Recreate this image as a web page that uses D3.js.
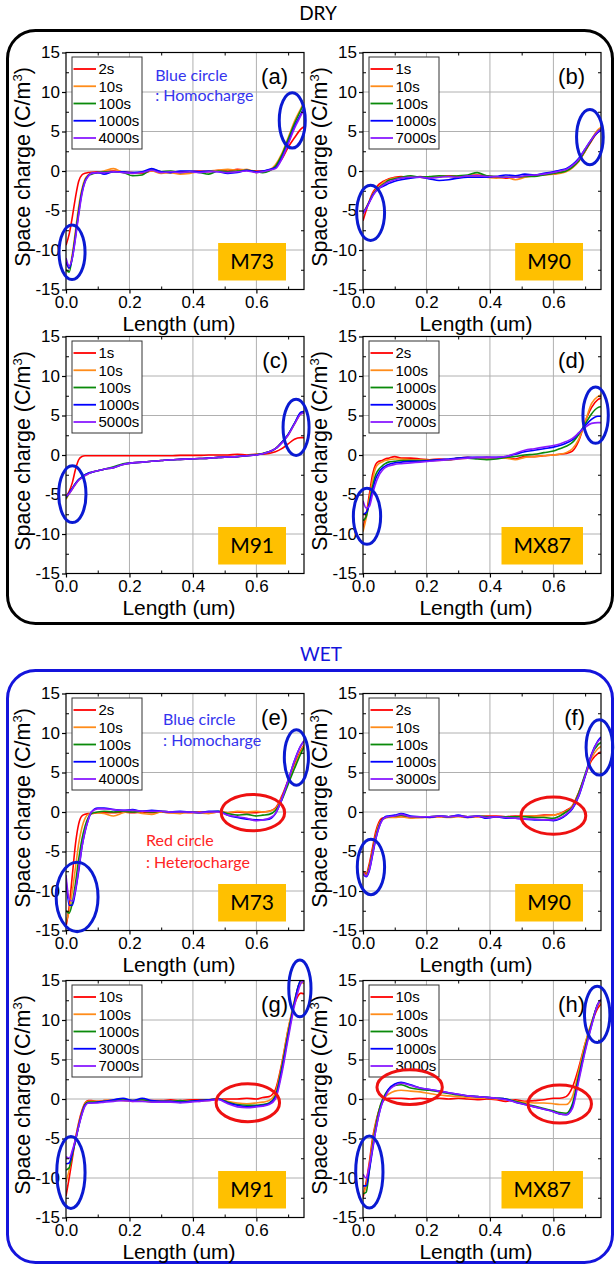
<!DOCTYPE html>
<html><head><meta charset="utf-8">
<script src="https://cdn.jsdelivr.net/npm/d3@7"></script>
<style>body{margin:0;background:#fff}svg{display:block}</style>
</head><body><svg id="c" width="616" height="1267"></svg>
<script>
// ---------- DATA ----------
const X = [0,0.01,0.02,0.03,0.04,0.05,0.06,0.07,0.08,0.1,0.12,0.15,0.18,0.21,0.24,0.27,0.3,0.33,0.36,0.39,0.42,0.45,0.48,0.51,0.54,0.57,0.6,0.62,0.64,0.66,0.68,0.7,0.72,0.74,0.75];
const seriesColors = ["#ff0000","#ff8c1a","#0a8a0a","#0000ff","#8a1aff"];
const panelLabels = ["(a)","(b)","(c)","(d)","(e)","(f)","(g)","(h)"];
const sampleNames = ["M73","M90","M91","MX87","M73","M90","M91","MX87"];
const legendA = ["2s","10s","100s","1000s","4000s"];
const legendB = ["1s","10s","100s","1000s","7000s"];
const legendC = ["1s","10s","100s","1000s","5000s"];
const legendD = ["2s","100s","1000s","3000s","7000s"];
const legendE = ["2s","10s","100s","1000s","4000s"];
const legendF = ["2s","10s","100s","1000s","3000s"];
const legendG = ["10s","100s","1000s","3000s","7000s"];
const legendH = ["10s","100s","300s","1000s","3000s"];
const legendLabels = [legendA,legendB,legendC,legendD,legendE,legendF,legendG,legendH];

const seriesA = [
 [-9.4,-8.0,-5.8,-3.3,-1.3,-0.5,-0.3,-0.2,-0.15,-0.1,-0.1,0.0,-0.1,-0.2,-0.3,0.0,-0.1,-0.2,-0.1,-0.1,0.0,-0.1,0.1,0.0,0.2,0.1,0.0,0.0,0.1,0.5,1.5,3.0,4.2,5.3,5.6],
 [-11.5,-12.3,-10.5,-7.5,-4.5,-2.3,-1.0,-0.5,-0.3,-0.2,0.0,0.3,-0.2,-0.3,-0.2,0.0,-0.3,-0.2,-0.4,-0.3,-0.1,0.0,0.1,0.2,0.1,0.2,-0.2,-0.1,0.1,0.8,2.2,4.2,6.3,7.9,8.7],
 [-12.5,-12.8,-10.8,-8.0,-5.0,-2.6,-1.2,-0.6,-0.4,-0.2,-0.1,-0.1,-0.2,-0.6,-0.5,0.2,-0.1,0.0,-0.2,-0.1,-0.2,-0.4,0.0,-0.1,0.0,0.1,-0.1,-0.2,0.0,0.6,2.0,4.0,6.0,7.7,8.5],
 [-11.5,-12.3,-11.0,-8.3,-5.3,-2.8,-1.3,-0.6,-0.3,-0.2,-0.4,-0.1,-0.1,-0.2,-0.1,0.3,-0.1,-0.2,0.0,0.0,-0.1,0.0,-0.1,-0.3,-0.2,0.1,-0.1,0.0,0.2,0.4,1.7,3.6,5.6,7.2,8.0],
 [-11.0,-12.0,-11.0,-8.5,-5.6,-3.0,-1.4,-0.7,-0.3,-0.2,-0.2,-0.1,-0.2,-0.3,-0.2,0.1,-0.2,-0.1,-0.2,-0.1,-0.2,-0.1,-0.1,-0.2,-0.1,0.0,-0.2,-0.1,0.1,0.3,1.5,3.4,5.4,7.0,7.8]
];
const seriesB = [
 [-6.3,-5.0,-3.8,-2.8,-2.2,-1.7,-1.4,-1.2,-1.0,-0.8,-0.7,-0.8,-0.7,-0.8,-0.7,-0.6,-0.7,-0.6,-0.5,-0.6,-0.8,-0.9,-0.8,-0.7,-0.6,-0.4,-0.4,-0.2,0.0,0.5,1.3,2.5,3.8,4.9,5.2],
 [-5.3,-4.6,-3.8,-3.0,-2.4,-2.0,-1.6,-1.3,-1.1,-0.9,-0.9,-0.7,-0.8,-0.9,-0.7,-0.7,-0.8,-0.7,-0.7,-0.8,-0.9,-0.8,-1.1,-0.8,-0.6,-0.5,-0.4,-0.3,-0.1,0.4,1.2,2.5,4.0,5.2,5.5],
 [-5.3,-4.7,-3.9,-3.1,-2.5,-2.1,-1.8,-1.5,-1.2,-1.0,-0.8,-0.6,-0.8,-0.7,-0.6,-0.7,-0.6,-0.5,-0.2,-0.6,-0.7,-0.8,-0.8,-0.7,-0.7,-0.5,-0.3,-0.2,0.0,0.5,1.3,2.6,3.9,5.0,5.3],
 [-5.3,-4.7,-3.9,-3.1,-2.6,-2.2,-2.0,-1.8,-1.6,-1.3,-1.1,-0.9,-0.8,-1.0,-1.2,-1.1,-0.9,-0.8,-0.8,-0.8,-0.7,-0.5,-0.6,-0.4,-0.5,-0.3,-0.1,0.1,0.3,0.8,1.6,2.8,4.0,4.9,5.1],
 [-5.4,-4.8,-4.0,-3.2,-2.6,-2.2,-1.9,-1.6,-1.4,-1.1,-0.9,-0.8,-0.8,-0.9,-0.8,-0.7,-0.8,-0.6,-0.6,-0.7,-0.7,-0.8,-0.8,-0.6,-0.5,-0.4,-0.2,0.0,0.2,0.7,1.5,2.8,4.0,5.0,5.3]
];
const seriesC = [
 [-5.3,-4.6,-3.5,-1.8,-0.6,-0.2,-0.1,-0.1,-0.1,-0.1,-0.1,-0.1,-0.1,-0.1,-0.1,-0.1,-0.1,-0.1,-0.05,-0.05,-0.05,0.0,0.0,0.0,0.1,0.0,0.1,0.1,0.2,0.4,0.8,1.4,2.0,2.2,2.2],
 [-5.6,-4.9,-4.3,-3.7,-3.2,-2.9,-2.6,-2.4,-2.2,-2.0,-1.8,-1.6,-1.2,-1.0,-0.9,-0.8,-0.7,-0.6,-0.55,-0.5,-0.45,-0.4,-0.3,-0.25,-0.2,-0.1,0.05,0.2,0.4,0.8,1.6,2.5,3.9,5.2,5.4],
 [-5.5,-4.8,-4.2,-3.6,-3.1,-2.8,-2.5,-2.3,-2.2,-2.0,-1.8,-1.5,-1.1,-1.0,-0.9,-0.8,-0.7,-0.6,-0.55,-0.5,-0.45,-0.4,-0.3,-0.25,-0.2,-0.1,0.05,0.2,0.4,0.8,1.6,2.6,4.0,5.3,5.5],
 [-5.3,-4.8,-4.2,-3.6,-3.1,-2.8,-2.5,-2.3,-2.2,-2.0,-1.8,-1.6,-1.2,-1.0,-0.9,-0.8,-0.7,-0.6,-0.55,-0.5,-0.45,-0.4,-0.3,-0.25,-0.2,-0.1,0.0,0.15,0.4,0.8,1.6,2.6,4.0,5.4,5.5],
 [-5.2,-4.9,-4.3,-3.7,-3.2,-2.9,-2.6,-2.4,-2.2,-2.0,-1.8,-1.6,-1.2,-1.0,-0.9,-0.8,-0.7,-0.6,-0.55,-0.5,-0.45,-0.4,-0.3,-0.25,-0.2,-0.1,0.0,0.15,0.4,0.8,1.5,2.5,3.9,5.2,5.3]
];
const seriesD = [
 [-9.2,-7.5,-5.0,-2.5,-1.2,-0.8,-0.7,-0.5,-0.4,-0.2,-0.4,-0.4,-0.5,-0.6,-0.5,-0.6,-0.4,-0.3,-0.4,-0.3,-0.4,-0.3,-0.5,-0.2,-0.2,-0.1,0.0,0.1,0.2,0.5,1.8,4.2,6.0,7.0,7.2],
 [-9.7,-8.0,-5.6,-3.2,-1.6,-1.1,-0.9,-0.7,-0.6,-0.5,-0.5,-0.6,-0.6,-0.7,-0.7,-0.6,-0.5,-0.4,-0.4,-0.5,-0.4,-0.4,-0.6,-0.3,-0.2,-0.1,0.0,0.1,0.3,0.8,2.0,4.2,6.5,7.4,7.6],
 [-8.3,-7.8,-6.0,-4.0,-2.5,-1.8,-1.4,-1.1,-0.9,-0.8,-0.7,-0.7,-0.7,-0.7,-0.6,-0.6,-0.4,-0.4,-0.5,-0.6,-0.5,-0.3,-0.2,0.0,0.1,0.3,0.5,0.8,1.1,1.6,2.6,3.9,5.2,6.0,6.1],
 [-7.5,-7.3,-6.2,-4.5,-3.0,-2.2,-1.7,-1.4,-1.2,-1.0,-0.9,-0.8,-0.8,-0.7,-0.6,-0.5,-0.4,-0.3,-0.3,-0.3,-0.3,-0.2,0.1,0.4,0.6,0.8,1.0,1.2,1.5,1.9,2.8,3.7,4.5,4.9,4.9],
 [-5.8,-6.7,-6.5,-5.0,-3.6,-2.6,-2.0,-1.6,-1.4,-1.2,-1.1,-1.0,-0.9,-0.8,-0.7,-0.6,-0.5,-0.4,-0.3,-0.3,-0.3,-0.2,0.2,0.6,0.8,1.0,1.2,1.4,1.7,2.1,2.8,3.5,4.0,4.1,4.1]
];
const seriesE = [
 [-14.5,-12.0,-8.0,-4.0,-1.5,-0.5,-0.3,-0.2,-0.2,-0.1,-0.1,-0.1,0.0,-0.1,0.0,-0.1,0.0,-0.1,0.0,-0.1,0.0,-0.1,0.0,-0.1,0.0,-0.1,-0.1,0.0,0.1,0.5,2.0,4.0,6.0,7.8,8.5],
 [-14.0,-12.5,-10.0,-7.0,-4.0,-2.0,-0.8,-0.3,-0.2,-0.1,-0.2,-0.5,-0.1,0.1,-0.2,-0.3,0.0,-0.1,-0.2,0.0,-0.1,-0.2,0.0,-0.1,0.1,0.0,0.1,0.0,0.1,0.4,1.8,3.8,5.8,7.6,8.4],
 [-12.5,-12.8,-11.5,-9.0,-6.0,-3.5,-1.8,-0.7,-0.2,0.0,0.1,0.0,0.1,0.0,0.1,0.0,0.1,0.0,0.0,0.0,-0.1,0.0,0.1,-0.2,-0.4,-0.3,-0.5,-0.4,-0.3,0.2,1.5,3.5,5.5,7.4,8.2],
 [-8.5,-11.8,-11.8,-10.0,-7.5,-4.5,-2.5,-1.0,0.0,0.5,0.5,0.3,0.2,0.3,0.1,0.2,0.1,0.0,0.1,0.0,-0.1,0.1,0.1,-0.4,-0.7,-0.9,-1.0,-1.0,-0.9,-0.2,1.6,4.0,6.5,8.4,9.0],
 [-8.0,-11.0,-11.3,-9.8,-7.2,-4.5,-2.4,-1.0,0.0,0.4,0.4,0.3,0.2,0.2,0.1,0.1,0.1,0.0,0.0,0.0,-0.1,0.0,0.0,-0.4,-0.6,-0.8,-1.1,-1.0,-0.8,-0.2,1.6,4.0,6.5,8.4,9.0]
];
const seriesF = [
 [-7.5,-7.8,-6.5,-4.5,-2.5,-1.3,-0.8,-0.7,-0.6,-0.6,-0.6,-0.6,-0.7,-0.6,-0.6,-0.6,-0.5,-0.6,-0.6,-0.5,-0.5,-0.6,-0.5,-0.5,-0.5,-0.4,-0.4,-0.2,0.2,0.8,2.5,4.6,6.5,7.4,7.6],
 [-7.6,-8.0,-6.9,-5.0,-3.0,-1.6,-1.0,-0.8,-0.7,-0.7,-0.6,-0.8,-0.7,-0.7,-0.6,-0.7,-0.6,-0.7,-0.6,-0.6,-0.6,-0.6,-0.6,-0.5,-0.5,-0.5,-0.4,-0.2,0.1,0.7,2.4,4.6,6.8,8.0,8.3],
 [-7.8,-8.1,-7.1,-5.2,-3.2,-1.8,-1.0,-0.7,-0.6,-0.5,-0.4,-0.6,-0.6,-0.6,-0.5,-0.6,-0.5,-0.6,-0.5,-0.6,-0.6,-0.6,-0.6,-0.6,-0.7,-0.7,-0.8,-0.5,0.0,0.6,2.4,4.8,7.2,8.5,8.8],
 [-7.8,-8.2,-7.4,-5.5,-3.5,-2.0,-1.0,-0.6,-0.5,-0.4,-0.2,-0.5,-0.6,-0.7,-0.5,-0.6,-0.4,-0.7,-0.5,-0.8,-0.6,-0.8,-0.8,-0.9,-1.0,-1.0,-1.1,-0.9,-0.4,0.4,2.0,4.5,7.3,9.0,9.5],
 [-7.7,-8.1,-7.3,-5.4,-3.4,-2.0,-1.1,-0.7,-0.6,-0.5,-0.3,-0.6,-0.6,-0.6,-0.5,-0.6,-0.5,-0.6,-0.5,-0.7,-0.6,-0.7,-0.8,-0.9,-0.9,-1.0,-1.0,-0.8,-0.3,0.5,2.1,4.6,7.2,8.9,9.3]
];
const seriesG = [
 [-12.3,-10.0,-7.5,-5.0,-3.0,-1.5,-0.5,-0.2,-0.2,-0.3,-0.2,-0.2,-0.1,-0.2,-0.1,-0.2,-0.2,-0.1,-0.2,-0.1,-0.1,-0.1,0.0,0.0,0.0,0.1,0.0,0.2,0.3,1.2,4.5,8.8,12.0,13.4,13.3],
 [-10.5,-9.0,-7.0,-5.0,-3.2,-1.7,-0.6,-0.3,-0.3,-0.3,-0.2,-0.1,-0.2,-0.3,-0.2,-0.4,-0.2,-0.3,-0.3,-0.2,-0.3,-0.2,0.0,-0.3,-0.5,-0.6,-0.5,-0.4,-0.2,0.8,4.3,8.8,12.5,14.8,14.6],
 [-9.0,-8.7,-7.0,-5.3,-3.4,-1.8,-0.7,-0.4,-0.4,-0.4,-0.3,-0.2,0.0,-0.2,-0.1,-0.3,-0.3,-0.3,-0.2,-0.3,-0.2,-0.1,0.0,-0.4,-0.7,-0.8,-0.8,-0.7,-0.5,0.4,4.0,8.3,12.3,15.0,15.0],
 [-8.2,-8.1,-6.8,-5.2,-3.4,-1.9,-0.8,-0.5,-0.5,-0.4,-0.3,-0.1,0.1,-0.2,0.1,-0.2,-0.3,-0.3,-0.4,-0.3,-0.2,-0.1,0.0,-0.5,-0.8,-1.0,-0.9,-0.8,-0.6,0.2,3.6,8.0,12.2,15.0,15.0],
 [-7.3,-7.5,-6.5,-5.1,-3.5,-2.0,-0.9,-0.5,-0.5,-0.5,-0.4,-0.3,-0.2,-0.3,-0.3,-0.4,-0.4,-0.4,-0.5,-0.4,-0.3,-0.2,-0.1,-0.6,-1.0,-1.1,-1.0,-0.9,-0.7,0.0,3.2,7.6,11.8,14.6,15.0]
];
const seriesH = [
 [-12.5,-10.5,-8.0,-5.0,-3.0,-1.5,-0.5,0.0,0.1,0.1,0.1,0.0,0.1,0.0,0.1,0.0,0.1,0.0,-0.1,0.0,-0.1,-0.3,-0.1,-0.3,-0.2,-0.1,0.1,0.1,0.3,1.5,4.0,7.0,9.5,11.5,12.0],
 [-12.0,-11.0,-8.5,-5.5,-3.2,-1.5,-0.3,0.3,0.6,1.0,1.1,1.0,0.9,0.7,0.5,0.4,0.3,0.2,0.1,0.1,0.0,-0.1,-0.3,-0.4,-0.5,-0.5,-0.6,-0.7,-0.7,0.3,3.6,7.0,9.7,11.8,12.2],
 [-12.0,-11.8,-9.0,-6.0,-3.5,-1.5,-0.2,0.6,1.2,1.7,1.8,1.4,1.2,1.1,0.9,0.7,0.5,0.4,0.3,0.2,0.1,0.0,-0.3,-0.6,-0.9,-1.2,-1.5,-1.7,-1.8,-0.6,3.0,6.5,9.5,12.0,12.5],
 [-11.0,-11.0,-9.0,-6.5,-4.0,-2.0,-0.5,0.4,1.2,1.9,2.1,1.8,1.4,1.2,1.0,0.8,0.6,0.4,0.3,0.2,0.1,0.0,-0.4,-0.7,-1.0,-1.3,-1.6,-1.9,-2.0,-1.0,2.6,6.2,9.3,12.0,12.6],
 [-9.5,-10.0,-8.5,-6.3,-4.0,-2.0,-0.6,0.3,1.0,1.7,2.0,1.7,1.4,1.2,1.0,0.8,0.6,0.4,0.3,0.2,0.1,-0.1,-0.4,-0.7,-1.0,-1.3,-1.6,-1.9,-2.0,-1.2,2.3,6.0,9.2,12.0,12.6]
];
const panelSeries = [seriesA,seriesB,seriesC,seriesD,seriesE,seriesF,seriesG,seriesH];

// annotation ellipses: [panel, cx, cy, rx, ry] in data units
const blueEllipses = [
 [0,0.019,-10.3,0.041,3.45],[0,0.713,6.4,0.041,3.5],
 [1,0.024,-5.3,0.044,3.5],[1,0.715,4.3,0.042,3.5],
 [2,0.02,-4.96,0.043,3.6],[2,0.725,3.5,0.041,3.55],
 [3,0.0126,-7.75,0.043,3.55],[3,0.733,5.04,0.04,3.56],
 [4,0.035,-10.75,0.066,4.4],[4,0.726,6.9,0.038,3.5],
 [5,0.025,-6.96,0.043,3.5],[5,0.745,8.17,0.042,3.5],
 [6,0.0155,-9.3,0.0446,4.55],[6,0.737,14.0,0.035,3.6],
 [7,0.02,-9.24,0.043,4.55],[7,0.738,10.7,0.04,3.56]
];
const redEllipses = [
 [4,0.589,-0.08,0.1,2.3],
 [5,0.6,-0.46,0.102,2.35],
 [6,0.573,-0.47,0.1,2.4],
 [7,0.147,1.5,0.103,2.2],[7,0.62,-0.64,0.1,2.4]
];
// annotation notes: [panel, text, x, y (data units), kind]
const notes = [
 [0,"Blue circle",0.281,11.4,"blue"],[0,": Homocharge",0.281,8.85,"blue"],
 [4,"Blue circle",0.306,11.0,"blue"],[4,": Homocharge",0.306,8.3,"blue"],
 [4,"Red circle",0.252,-4.3,"red"],[4,": Heterocharge",0.252,-7.1,"red"]
];
const yTicks = [-15,-10,-5,0,5,10,15];
const yMinor = [-12.5,-7.5,-2.5,2.5,7.5,12.5];
const xTicks = [0,0.2,0.4,0.6];
const xMinor = [0.1,0.3,0.5,0.7];

// ---------- DRAW ----------
const svg = d3.select("#c");
const W = 238, H = 237;
const lefts = [66, 363], tops = [52.5, 336.5, 693.5, 980.5];
const x = d3.scaleLinear().domain([0,0.75]).range([0,W]);
const y = d3.scaleLinear().domain([-15,15]).range([H,0]);
const sansA = "'Liberation Sans', Arial, sans-serif";
const sansC = "Lato, 'Open Sans', sans-serif";

// group boxes
svg.append("rect").attr("x",7.5).attr("y",30.5).attr("width",605).attr("height",593)
  .attr("rx",28).attr("fill","none").attr("stroke","#000").attr("stroke-width",3);
svg.append("rect").attr("x",7.5).attr("y",670.5).attr("width",605).attr("height",592)
  .attr("rx",28).attr("fill","none").attr("stroke","#1414dc").attr("stroke-width",3);
svg.append("text").attr("x",318).attr("y",20).attr("text-anchor","middle")
  .attr("font-family",sansC).attr("font-size",19).attr("fill","#000").text("DRY");
svg.append("text").attr("x",321).attr("y",660.5).attr("text-anchor","middle")
  .attr("font-family",sansC).attr("font-size",19).attr("fill","#1414dc").text("WET");

const line = d3.line().x((d,j)=>x(X[j])).y(d=>y(d)).curve(d3.curveMonotoneX);

panelSeries.forEach((series,i)=>{
  const col = i%2, row = Math.floor(i/2);
  const g = svg.append("g").attr("transform",`translate(${lefts[col]},${tops[row]})`);
  // grid
  g.selectAll(".gx").data(xTicks.slice(1)).join("line")
    .attr("x1",d=>x(d)).attr("x2",d=>x(d)).attr("y1",0).attr("y2",H)
    .attr("stroke","#b0b0b0").attr("stroke-width",1);
  g.selectAll(".gy").data(yTicks.slice(1,-1)).join("line")
    .attr("y1",d=>y(d)).attr("y2",d=>y(d)).attr("x1",0).attr("x2",W)
    .attr("stroke","#b0b0b0").attr("stroke-width",1);
  // clip
  const cid = "clip"+i;
  g.append("clipPath").attr("id",cid).append("rect").attr("width",W).attr("height",H);
  const lg = g.append("g").attr("clip-path",`url(#${cid})`);
  series.forEach((s,k)=>{
    lg.append("path").attr("d",line(s)).attr("fill","none")
      .attr("stroke",seriesColors[k]).attr("stroke-width",1.6).attr("stroke-linejoin","round");
  });
  // frame
  g.append("rect").attr("width",W).attr("height",H).attr("fill","none").attr("stroke","#000").attr("stroke-width",1.2);
  // axes
  const ax = g.append("g").call(d3.axisLeft(y).tickValues(yTicks).tickSize(4).tickPadding(2).tickFormat(d=>String(d)));
  const bx = g.append("g").attr("transform",`translate(0,${H})`)
    .call(d3.axisBottom(x).tickValues(xTicks).tickSize(4).tickPadding(2).tickFormat(d3.format(".1f")));
  [ax,bx].forEach(a=>{
    a.select(".domain").remove();
    a.selectAll("text").attr("font-family",sansA).attr("font-size",17).attr("fill","#000");
    a.selectAll("line").attr("stroke","#000").attr("stroke-width",1.2);
  });
  // minor ticks inward
  g.append("g").call(d3.axisLeft(y).tickValues(yMinor).tickSize(-3).tickFormat(""))
    .call(a=>a.select(".domain").remove());
  g.append("g").attr("transform",`translate(${W},0)`).call(d3.axisRight(y).tickValues(yMinor).tickSize(-3).tickFormat(""))
    .call(a=>a.select(".domain").remove());
  g.append("g").attr("transform",`translate(0,${H})`).call(d3.axisBottom(x).tickValues(xMinor).tickSize(-3).tickFormat(""))
    .call(a=>a.select(".domain").remove());
  g.append("g").call(d3.axisTop(x).tickValues(xMinor).tickSize(-3).tickFormat(""))
    .call(a=>a.select(".domain").remove());
  // axis titles
  g.append("text").attr("x",W/2-6).attr("y",H+41).attr("text-anchor","middle")
    .attr("font-family",sansA).attr("font-size",21).attr("fill","#000").text("Length (um)");
  const yt = g.append("text").attr("transform",`translate(-36,${H/2-4}) rotate(-90)`)
    .attr("text-anchor","middle").attr("font-family",sansA).attr("font-size",21.5).attr("fill","#000");
  yt.append("tspan").text("Space charge (C/m");
  yt.append("tspan").attr("font-size",13).attr("dy",-8).text("3");
  yt.append("tspan").attr("dy",8).text(")");
  // legend
  const leg = g.append("g").attr("transform","translate(6,4.5)");
  leg.append("rect").attr("width",70).attr("height",92).attr("fill","#fff").attr("stroke","#333").attr("stroke-width",1);
  legendLabels[i].forEach((lab,k)=>{
    const yy = 12 + k*17.25;
    leg.append("line").attr("x1",1.5).attr("x2",24).attr("y1",yy).attr("y2",yy)
      .attr("stroke",seriesColors[k]).attr("stroke-width",1.8);
    leg.append("text").attr("x",26.5).attr("y",yy).attr("dy","0.36em")
      .attr("font-family",sansA).attr("font-size",15).attr("fill","#000").text(lab);
  });
  // panel label
  g.append("text").attr("x",W-16).attr("y",31).attr("text-anchor","end")
    .attr("font-family",sansA).attr("font-size",22).attr("fill","#000").text(panelLabels[i]);
  // sample box
  const sb = g.append("g");
  const st = sb.append("text").attr("font-family",sansC).attr("font-size",21).attr("fill","#000")
    .attr("text-anchor","middle").text(sampleNames[i]);
  const tw = st.node().getComputedTextLength();
  const bw = tw + 24, bh = 37.5;
  const bxr = W - 18, bb = H - 9;
  sb.insert("rect","text").attr("x",bxr-bw).attr("y",bb-bh).attr("width",bw).attr("height",bh).attr("fill","#ffc000");
  st.attr("x",bxr-bw/2).attr("y",bb-bh/2).attr("dy","0.36em");
  // ellipses
  blueEllipses.filter(e=>e[0]===i).forEach(e=>{
    g.append("ellipse").attr("cx",x(e[1])).attr("cy",y(e[2]))
      .attr("rx",x(e[3])-x(0)).attr("ry",y(0)-y(e[4]))
      .attr("fill","none").attr("stroke","#0a1ad2").attr("stroke-width",3);
  });
  redEllipses.filter(e=>e[0]===i).forEach(e=>{
    g.append("ellipse").attr("cx",x(e[1])).attr("cy",y(e[2]))
      .attr("rx",x(e[3])-x(0)).attr("ry",y(0)-y(e[4]))
      .attr("fill","none").attr("stroke","#ee1111").attr("stroke-width",3);
  });
  notes.filter(n=>n[0]===i).forEach(n=>{
    g.append("text").attr("x",x(n[2])).attr("y",y(n[3]))
      .attr("font-family",sansC).attr("font-size",16)
      .attr("fill",n[4]==="blue"?"#3434ee":"#ff2424").text(n[1]);
  });
});
</script></body></html>
